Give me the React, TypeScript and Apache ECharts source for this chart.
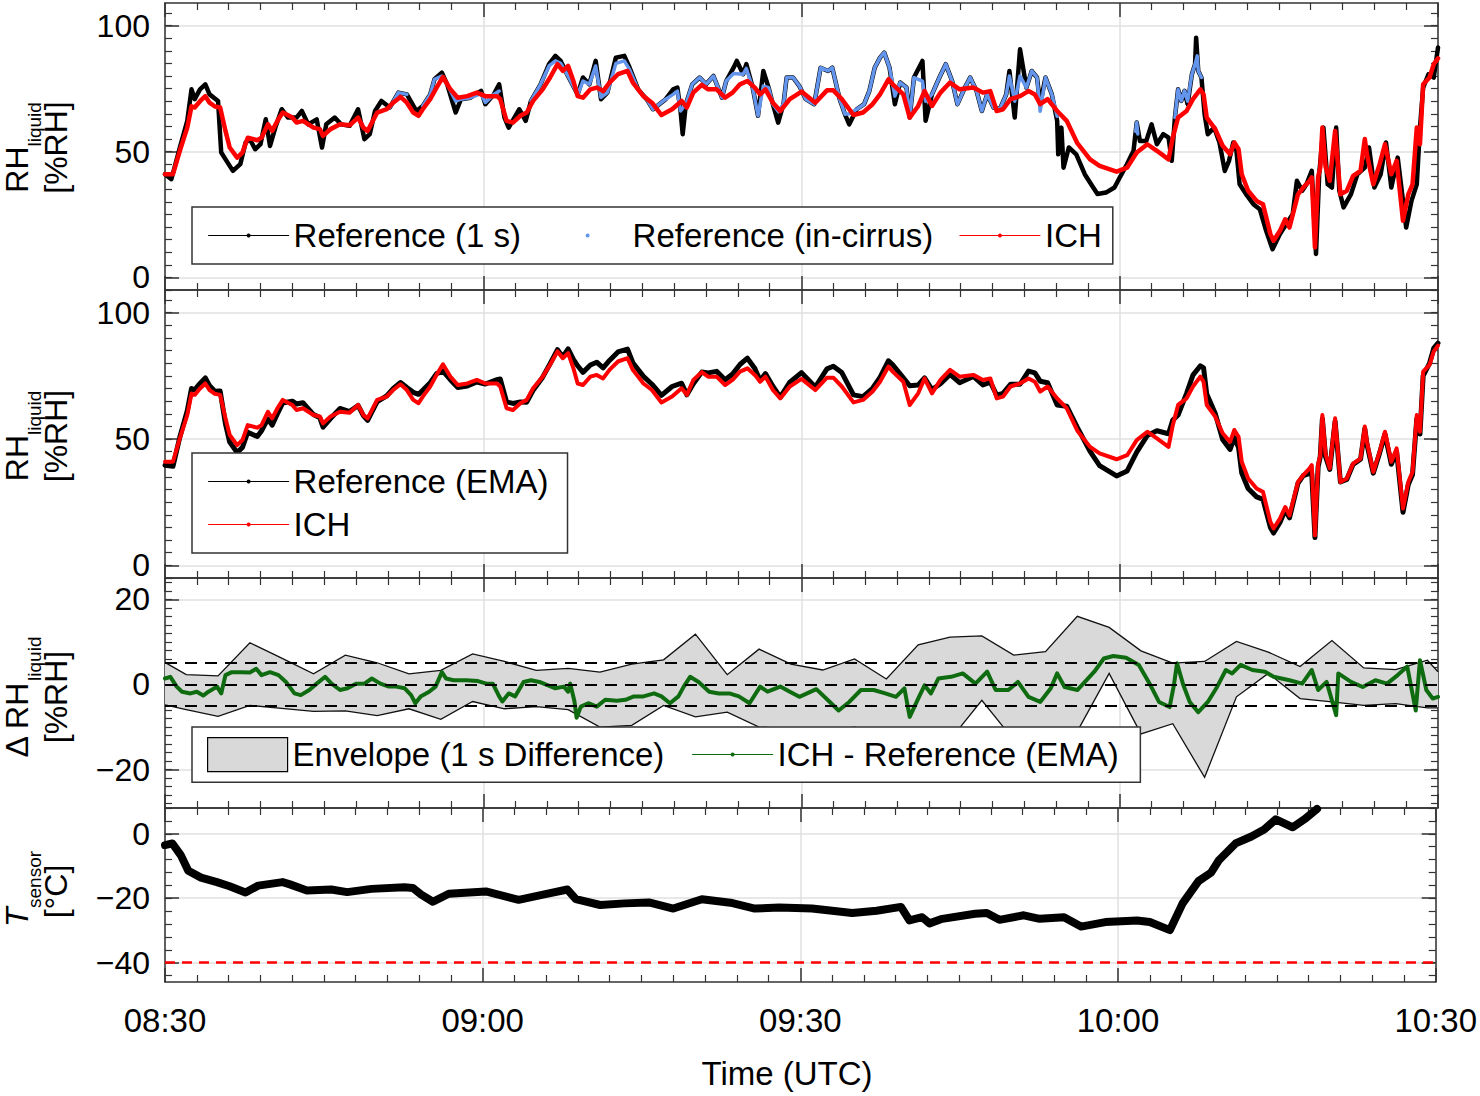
import React, { useEffect, useRef } from 'react';
import * as echarts from 'echarts';

// time is given in minutes after 08:30 UTC
const ref1s: [number, number][] = [
  [0, 41], [0.6, 39], [1.4, 51.6], [2.1, 62.2], [2.5, 74.7], [2.8, 70.8], [3.3, 74.7], [3.8, 76.7], [4.2, 72.7], [5.0, 70.1],
  [5.3, 49.6], [5.8, 46.3], [6.4, 42.3], [7.1, 45], [7.6, 53.6], [8.0, 54.9], [8.5, 50.9], [9.0, 52.9], [9.5, 62.8], [9.9, 52.2],
  [10.4, 59.5], [11.0, 66.8], [11.6, 63.5], [12.4, 63.5], [12.9, 66.1], [13.5, 60.8], [14.3, 62.8], [14.8, 51.6], [15.2, 60.8], [16.0, 63.5],
  [16.6, 60.8], [17.4, 60.2], [18.2, 66.8], [18.8, 54.9], [19.3, 56.9], [19.8, 66.1], [20.4, 70.1], [21.2, 67.5], [22.0, 73.4], [22.8, 72.7],
  [23.7, 66.1], [24.3, 68.1], [25.0, 72.7], [25.4, 78.7], [26.1, 81.3], [26.6, 76.7], [27.4, 65.5], [27.9, 70.8], [28.8, 71.4], [29.8, 74.1],
  [30.2, 68.8], [31.0, 72.7], [31.5, 76.7], [32.0, 63.5], [32.4, 59.5], [33.4, 66.8], [34.0, 62.2], [34.5, 70.1], [35.4, 76.7], [36.2, 84.7],
  [36.8, 88], [37.3, 86], [37.9, 80.7], [38.9, 72.7], [39.4, 79.4], [40.0, 76.7], [40.6, 86], [41.1, 70.8], [41.7, 73.4], [42.5, 87.3],
  [43.3, 88], [43.8, 83.3], [44.6, 74.7], [45.4, 70.8], [46.0, 66.8], [46.6, 68.8], [47.2, 70.8], [47.9, 74.7], [48.3, 75.4], [48.6, 66.1],
  [48.8, 56.9], [49.1, 68.8], [49.7, 76.7], [50.4, 79.4], [51.0, 76.7], [51.7, 80], [52.5, 71.4], [52.9, 78], [53.6, 83.3], [53.9, 86],
  [54.5, 80.7], [54.8, 84.7], [55.4, 75.4], [55.9, 64.2], [56.4, 82], [56.9, 75.4], [57.3, 68.8], [57.8, 61.5], [58.3, 68.8], [58.6, 79.4],
  [59.2, 79.4], [59.8, 76], [60.4, 70.8], [61.2, 68.8], [61.8, 83.3], [62.5, 82], [62.9, 83.3], [63.6, 70.8], [64.1, 64.8], [64.5, 60.8],
  [65.2, 66.8], [65.9, 68.8], [66.4, 74.1], [66.9, 83.3], [67.4, 87.3], [67.8, 89.3], [68.3, 83.3], [68.8, 68.8], [69.3, 77.4], [69.9, 75.4],
  [70.2, 63.5], [70.6, 79.4], [71.4, 86], [71.7, 62.2], [72.3, 72.7], [73.0, 79.4], [73.6, 84.7], [74.2, 78], [74.7, 68.8], [75.4, 75.4],
  [75.9, 79.4], [76.5, 74.1], [77.0, 66.1], [77.5, 72.7], [78.1, 67.5], [78.7, 66.8], [79.3, 72.7], [79.6, 82], [80.1, 63.5], [80.6, 90.6],
  [81.2, 75.4], [81.7, 82], [82.2, 79.4], [82.5, 68.8], [83.0, 79.4], [83.6, 72.7], [84.1, 62.2], [84.2, 48.9], [84.5, 59.5], [84.7, 43.6],
  [85.2, 51.6], [85.9, 48.9], [86.7, 41], [87.3, 37], [87.9, 33.1], [88.7, 33.7], [89.5, 35.7], [90.0, 39.7], [90.6, 44.3], [91.3, 50.3],
  [91.6, 61.5], [91.9, 54.2], [92.5, 54.2], [93.0, 60.8], [93.5, 52.9], [94.1, 56.9], [94.6, 55.5], [94.9, 46.3], [95.2, 63.5], [95.5, 74.7],
  [95.8, 70.1], [96.1, 74.1], [96.4, 68.8], [96.8, 80.7], [97.1, 84.7], [97.2, 95.2], [97.4, 82], [97.7, 79.4], [98.0, 64.8], [98.3, 56.9],
  [98.9, 59.5], [99.4, 53.6], [99.9, 42.3], [100.3, 46.3], [100.7, 53.6], [101.0, 50.3], [101.3, 37], [101.9, 33.1], [102.6, 29.1], [103.2, 27.1],
  [103.8, 18.5], [104.4, 11.2], [105.1, 17.2], [105.7, 21.2], [106.3, 25.1], [106.7, 38.4], [107.2, 34.4], [107.6, 37], [108.1, 42.3], [108.5, 9.3],
  [108.8, 41], [109.2, 59.5], [109.6, 37], [110.0, 35.7], [110.4, 59.5], [110.7, 34.4], [111.1, 27.8], [111.8, 33.1], [112.4, 41], [113.1, 43.6],
  [113.5, 51.6], [114.0, 35.7], [114.6, 41], [115.1, 53.6], [115.6, 35.7], [116.2, 47.6], [116.7, 30.4], [117.0, 19.8], [117.5, 30.4], [118.0, 37],
  [118.3, 59.5], [118.6, 75.4], [119.1, 80.7], [119.6, 79.4], [120, 91.3],
];

// in-cirrus subset of the 1 s reference, null breaks the segments
const refCirrus: [number, number | null][] = [
  [21.2, 67.5], [22.0, 73.4], [22.8, 72.7], [23.2, null],
  [24.3, 68.1], [25.0, 72.7], [25.4, 78.7], [26.1, 80], [26.6, 76.7], [27.4, 70], [27.9, 70.8], [28.8, 71.4], [29.8, 73], [30.2, 69.5],
  [31.0, 72.7], [31.5, 74], [33.0, null],
  [34.5, 70.1], [35.4, 76.7], [36.2, 84], [36.8, 86], [37.3, 85], [37.9, 80.7], [38.9, 72.7], [39.4, 78], [40.0, 76.7], [40.6, 84],
  [41.1, 71.5], [41.7, 73.4], [42.5, 85], [43.3, 86], [43.8, 82.5], [44.6, 74.7], [45.4, 70.8], [46.0, 66.8], [46.6, 68.8], [47.2, 70.8],
  [47.9, 72.7], [48.3, 74], [48.6, 66.1], [49.1, 68.8], [49.7, 76.7], [50.4, 79.4], [51.0, 76.7], [51.7, 80], [52.5, 71.4], [52.9, 78],
  [53.6, 81], [54.5, 80.7], [54.8, 83], [55.4, 75.4], [55.9, 64.2], [56.4, 76], [56.9, 75.4], [57.3, 68.8], [57.8, 66], [58.3, 68.8],
  [58.6, 79.4], [59.2, 79.4], [59.8, 76], [60.4, 70.8], [61.2, 68.8], [61.8, 83.3], [62.5, 82], [62.9, 83.3], [63.6, 70.8], [64.1, 64.8],
  [64.5, 65], [65.2, 66.8], [65.9, 68.8], [66.4, 74.1], [66.9, 83.3], [67.4, 87.3], [67.8, 89.3], [68.3, 83.3], [68.8, 72], [69.3, 77.4],
  [69.9, 75.4], [70.2, 63.5], [70.6, 79.4], [71.4, 78], [71.7, 70], [72.3, 72.7], [73.0, 79.4], [73.6, 84.7], [74.2, 78], [74.7, 68.8],
  [75.4, 75.4], [75.9, 79.4], [76.5, 74.1], [77.0, 66.1], [77.5, 72.7], [78.1, 67.5], [78.7, 66.8], [79.3, 72.7], [79.6, 80], [80.1, 70],
  [80.6, 80], [81.2, 75.4], [81.7, 82], [82.2, 79.4], [82.5, 66], [83.0, 79.4], [83.6, 72.7], [84.1, 64], [85.0, null],
  [91.5, 58], [91.6, 61.5], [91.7, 57], [92.0, null],
  [95.2, 63.5], [95.5, 74.7], [95.8, 70.1], [96.1, 74.1], [96.4, 70], [96.8, 80.7], [97.1, 84.7], [97.3, 88], [97.4, 82], [97.7, 79.4],
];

const ich: [number, number][] = [
  [0, 41], [0.75, 41], [1.4, 50.3], [2.1, 59.5], [2.5, 68], [2.8, 67.5], [3.3, 70], [3.8, 72], [4.2, 69.4], [4.7, 67.9],
  [5.2, 67.5], [5.7, 58.2], [6.1, 51.6], [6.8, 47.6], [7.3, 49.6], [7.8, 55.5], [8.7, 54.5], [9.1, 55.5], [9.7, 60.8], [10.1, 58.2],
  [10.6, 62.2], [11.1, 65.5], [12.0, 63.5], [12.4, 61.5], [13.0, 62.2], [14.0, 59.5], [14.6, 58.9], [14.9, 56.2], [15.6, 58.9], [16.5, 60.8],
  [17.4, 60.4], [18.2, 63.5], [18.7, 59.5], [19.1, 58.2], [20.0, 65.5], [20.9, 66.8], [21.5, 69.4], [22.2, 71.7], [22.8, 69.4], [23.4, 65.5],
  [23.9, 64.2], [24.3, 66.8], [25.0, 70.8], [25.6, 75.4], [26.2, 79.6], [26.9, 74.7], [27.6, 71.4], [28.5, 72], [29.4, 73.4], [30.2, 72],
  [31.3, 72], [31.6, 70.8], [32.2, 62.2], [32.8, 61.5], [33.5, 64.2], [34.1, 65.5], [34.7, 70.1], [35.6, 74.7], [36.3, 79.4], [37.0, 84.7],
  [37.5, 82], [38.0, 84], [38.5, 78], [38.9, 72], [39.4, 71.4], [40.1, 74.7], [40.7, 75.4], [41.3, 74], [41.9, 77.4], [42.7, 80.7],
  [43.6, 82], [44.1, 77.4], [45.1, 72], [45.9, 69.4], [46.8, 64.5], [47.8, 66.8], [48.7, 70.1], [49.2, 67.5], [49.8, 73.4], [50.6, 76.5],
  [51.2, 74.7], [52.0, 74.7], [52.8, 71.4], [53.5, 73.4], [54.2, 76.7], [54.9, 78], [55.6, 75.4], [56.1, 72.7], [56.6, 74.7], [57.3, 69.4],
  [58.0, 66.1], [58.9, 70.8], [60.0, 73.8], [61.3, 69.4], [62.4, 74.3], [63.0, 74.3], [63.8, 70.8], [64.9, 64.5], [65.8, 65.5], [66.7, 68.8],
  [67.4, 72.7], [68.2, 78.7], [68.6, 76.7], [69.6, 72.7], [70.2, 63.5], [71.0, 68.1], [71.6, 74], [72.3, 68.1], [73.1, 73.4], [74.0, 77.4],
  [74.9, 74.7], [76.2, 75.4], [77.1, 73.4], [77.8, 74], [78.4, 66.1], [79.0, 66.8], [79.7, 70.8], [80.6, 72], [81.4, 74], [82.0, 72.7],
  [82.5, 68.8], [83.2, 70.8], [84.1, 66.1], [85.0, 62.2], [86.0, 53.3], [87.2, 46.9], [88.1, 44.3], [89.7, 42], [90.7, 43.6], [91.6, 49.6],
  [92.6, 52.9], [93.5, 50.3], [94.6, 46.9], [95.0, 55.5], [95.5, 63.5], [96.3, 66.1], [96.9, 70.8], [97.6, 74.7], [97.9, 72.7], [98.2, 63.5],
  [99.0, 58.9], [99.7, 52.3], [100.4, 48.9], [100.8, 53.6], [101.2, 50.9], [101.5, 41], [102.1, 34.4], [102.9, 30.4], [103.5, 29.1], [104.2, 17.2],
  [104.5, 14.6], [105.1, 18.5], [105.6, 23.1], [106.0, 19.8], [106.8, 33], [107.3, 35.7], [107.9, 38.4], [108.1, 39.7], [108.4, 11.9], [108.7, 40],
  [108.9, 43.6], [109.1, 59.5], [109.4, 44], [109.8, 38.4], [110.3, 58.2], [110.8, 33], [111.4, 34.4], [112.0, 40.3], [112.7, 42.3], [113.1, 55],
  [113.3, 48.9], [113.9, 37], [114.5, 45], [115.0, 52.9], [115.6, 41], [116.1, 46.3], [116.7, 22.5], [117.2, 33], [117.6, 37], [118.0, 59.5],
  [118.3, 52.9], [118.6, 76.7], [119.2, 79.4], [119.6, 84.7], [120, 87],
];

const refEma: [number, number][] = [
  [0, 39.6], [0.75, 39.2], [1.4, 50.8], [2.1, 61.2], [2.5, 70], [2.8, 69.5], [3.3, 72], [3.8, 74.2], [4.2, 71.1], [4.7, 68.9],
  [5.2, 69], [5.7, 56], [6.1, 48.8], [6.8, 44.7], [7.3, 46.7], [7.8, 52.7], [8.7, 51], [9.1, 53.3], [9.7, 58], [10.1, 55.5],
  [10.6, 60], [11.1, 64.3], [12.0, 65], [12.4, 63.9], [13.0, 64.4], [14.0, 59.7], [14.6, 58.4], [14.9, 54.7], [15.6, 58.1], [16.5, 62.1],
  [17.4, 60.9], [18.2, 63.3], [18.7, 59.3], [19.1, 57.4], [20.0, 64.8], [20.9, 67.1], [21.5, 69.9], [22.2, 72.4], [22.8, 70.4], [23.4, 68.5],
  [23.9, 67.7], [24.3, 69.3], [25.0, 72.3], [25.6, 75.9], [26.2, 76.9], [26.9, 73.5], [27.6, 70.4], [28.5, 71], [29.4, 72.6], [30.2, 71.8],
  [31.3, 73.5], [31.6, 73.8], [32.2, 64.7], [32.8, 64.1], [33.5, 64.7], [34.1, 64.6], [34.7, 69.3], [35.6, 74.5], [36.3, 79.8], [37.0, 85.4],
  [37.5, 82.5], [38.0, 85.7], [38.5, 81.5], [38.9, 79], [39.4, 76.4], [40.1, 79.3], [40.7, 80.4], [41.3, 78.2], [41.9, 81.1], [42.7, 84.5],
  [43.6, 85.6], [44.1, 80.2], [45.1, 74.8], [45.9, 71.7], [46.8, 67.3], [47.8, 70.8], [48.7, 72.1], [49.2, 67.5], [49.8, 71.9], [50.6, 76.5],
  [51.2, 76.2], [52.0, 76.8], [52.8, 73.5], [53.5, 75.7], [54.2, 79.5], [54.9, 82], [55.6, 77.9], [56.1, 73.2], [56.6, 75.9], [57.3, 70.9],
  [58.0, 66.6], [58.9, 72.5], [60.0, 76.3], [61.3, 70.6], [62.4, 77.8], [63.0, 78.8], [63.8, 76.3], [64.9, 67.5], [65.8, 66.8], [66.7, 70.1],
  [67.4, 74.4], [68.2, 81], [68.6, 79.4], [69.6, 74.2], [70.2, 71.1], [71.0, 71.4], [71.6, 74.2], [72.3, 69.6], [73.1, 71.9], [74.0, 75.6],
  [74.9, 72.3], [76.2, 74.8], [77.1, 71.4], [77.8, 72.5], [78.4, 67.4], [79.0, 68.1], [79.7, 71.7], [80.6, 71.7], [81.4, 76.9], [82.0, 76.2],
  [82.5, 72.9], [83.2, 72.3], [84.1, 63.5], [85.0, 63], [86.0, 54.6], [87.2, 45.1], [88.1, 39.5], [89.7, 35.4], [90.7, 37.4], [91.6, 44.8],
  [92.6, 51.4], [93.5, 53.3], [94.6, 52.1], [95.0, 57.5], [95.5, 59.5], [96.3, 68.1], [96.9, 75.3], [97.6, 79], [97.9, 78.2], [98.2, 67.8],
  [99.0, 60.1], [99.7, 49.8], [100.4, 45.9], [100.8, 50.6], [101.2, 46.6], [101.5, 36.5], [102.1, 30.4], [102.9, 27.1], [103.5, 26.1], [104.2, 15],
  [104.5, 12.8], [105.1, 17], [105.6, 21.9], [106.0, 18.8], [106.8, 32.5], [107.3, 35.5], [107.9, 36.4], [108.1, 36.3], [108.4, 11], [108.7, 39],
  [108.9, 43], [109.1, 58], [109.4, 43], [109.8, 38], [110.3, 57], [110.8, 33], [111.4, 34], [112.0, 40], [112.7, 42], [113.1, 54],
  [113.3, 48], [113.9, 36.5], [114.5, 44.5], [115.0, 52], [115.6, 40], [116.1, 45], [116.7, 21], [117.2, 32], [117.6, 36], [118.0, 58],
  [118.3, 52], [118.6, 75], [119.2, 80], [119.6, 86], [120, 88],
];

const diffEma: [number, number][] = [
  [0, 1.4], [0.5, 1.8], [1.1, -0.5], [1.6, -1.7], [2.4, -2.1], [3.0, -1.7], [3.6, -2.6], [4.1, -1.7], [4.9, -0.5], [5.3, -2.1],
  [5.7, 2.2], [6.3, 2.9], [7.2, 2.9], [8.0, 2.8], [8.6, 3.7], [9.1, 2.2], [9.9, 2.9], [10.7, 2.2], [11.4, 0.6], [12.2, -2.1],
  [12.8, -2.5], [13.6, -1.3], [14.3, 0.2], [15.1, 1.8], [15.7, 0.2], [16.5, -1.3], [17.2, -0.9], [18.0, 0.2], [18.8, 0.2], [19.5, 1.4],
  [20.3, 0.2], [21.1, -0.5], [21.8, -0.5], [22.6, -0.9], [23.2, -2.5], [23.6, -4.4], [24.1, -2.8], [24.9, -1.7], [25.5, -0.5], [26.1, 2.9],
  [26.5, 1.4], [27.2, 1.0], [28.4, 1.0], [29.5, 0.8], [30.3, 0.2], [30.9, 0.2], [31.5, -2.8], [31.8, -4.0], [32.4, -2.1], [33.0, -2.8],
  [33.8, 0.6], [34.5, 1.0], [35.3, 0.6], [36.1, -0.2], [36.8, -0.9], [37.6, -0.5], [38.0, -1.7], [38.2, 0.2], [38.6, -4.0], [38.8, -7.8],
  [39.2, -5.2], [39.9, -4.4], [40.7, -5.2], [41.5, -3.6], [42.6, -3.8], [43.4, -3.6], [44.2, -2.8], [45.1, -2.8], [46.1, -2.1], [46.8, -2.8],
  [47.6, -4.4], [48.4, -2.8], [48.9, -0.5], [49.5, 1.8], [50.3, 0.6], [51.3, -1.7], [52.2, -2.1], [53.2, -2.1], [54.1, -2.8], [55.1, -4.4],
  [56.1, -0.5], [56.8, -1.7], [58.0, -0.5], [58.9, -1.7], [59.8, -2.9], [61.4, -1.1], [62.5, -3.7], [63.5, -6.1], [64.5, -4.1], [65.6, -1.3],
  [66.8, -1.3], [67.9, -2.1], [68.9, -2.9], [69.7, -0.9], [70.2, -7.6], [71.0, -3.3], [71.6, -0.2], [72.2, -2.1], [72.9, 1.4], [74.1, 1.8],
  [75.2, 2.6], [76.4, 0.2], [77.5, 3.0], [78.3, -1.3], [79.5, -1.3], [80.4, 0.6], [81.4, -2.9], [82.5, -4.1], [83.5, -0.9], [84.1, 2.6],
  [84.8, -0.6], [86.0, -1.3], [87.6, 3.0], [88.5, 6.1], [89.4, 6.7], [90.6, 6.3], [91.8, 4.6], [92.9, -0.2], [93.7, -4.1], [94.7, -5.3],
  [95.1, -0.2], [95.4, 5.0], [96.0, -0.2], [96.6, -4.1], [97.4, -6.5], [98.3, -4.1], [99.1, -0.9], [100.0, 3.4], [100.6, 2.6], [101.4, 4.6],
  [102.5, 3.4], [103.7, 3.0], [104.5, 1.8], [106.0, 1.0], [107.2, 0.2], [108.1, 3.4], [108.7, -1.3], [109.5, 0.6], [110.4, -7.2], [110.6, 2.6],
  [111.8, 0.6], [112.9, -0.6], [114.1, 1.0], [115.2, 0.2], [116.2, 2.2], [117.1, 4.2], [117.9, -6.1], [118.3, 5.7], [118.9, -1.3], [119.5, -3.3],
  [120, -2.9],
];

const envTimes = [0, 2, 5, 8, 11, 14, 17, 20, 23, 26, 29, 32, 35, 38, 41, 44, 47, 50, 53, 56, 59, 62, 65, 68, 71, 74, 77, 80, 83, 86, 89, 92, 95, 98, 101, 104, 107, 110, 113, 116, 119, 120];
const envUpper = [5.2, 2.3, 2.0, 9.8, 6.2, 2.5, 6.9, 5.1, 2.5, 3.3, 7.2, 5.4, 3.3, 3.8, 2.9, 4.8, 5.8, 11.8, 2.3, 8.3, 4.8, 3.4, 6.0, 1.3, 9.3, 11.1, 11.4, 6.9, 7.7, 16.0, 13.4, 7.9, 5.0, 5.4, 10.1, 7.6, 4.2, 10.3, 3.9, 3.5, 5.7, 3.0];
const envLower = [-4.8, -5.9, -7.5, -4.9, -5.6, -6.3, -6.2, -7.3, -5.7, -8.2, -4.0, -5.7, -5.2, -5.9, -10, -9.6, -4.9, -7.6, -6.5, -10, -10.5, -11, -10, -12, -12, -13, -3.7, -13, -12, -11, 2.6, -11.6, -9.2, -21.8, -2.9, 2.6, -3.3, -4.1, -4.9, -4.5, -5.5, -5.5];
const diffLevels = [-5, 0, 5];

const tSensor: [number, number][] = [
  [0, -3.5], [0.7, -3.0], [1.5, -6.7], [2.2, -11.5], [3.4, -13.6], [4.9, -15], [6.1, -16.3], [7.6, -18.2], [8.8, -16.1], [11.1, -15],
  [11.8, -15.7], [13.4, -17.6], [15.7, -17.3], [17.2, -18.1], [19.5, -17.1], [22.6, -16.6], [23.4, -16.8], [24.2, -18.9], [25.3, -21.1], [26.8, -18.6],
  [30.3, -17.9], [33.4, -20.5], [35.7, -18.9], [38.0, -17.3], [38.8, -20.3], [41.1, -22.1], [43.4, -21.6], [45.7, -21.3], [48.0, -23.2], [50.7, -20.3],
  [53.4, -21.4], [55.7, -23.2], [58.0, -22.9], [61.1, -23.2], [64.9, -24.6], [67.2, -23.9], [69.5, -22.7], [70.3, -26.9], [71.5, -25.9], [72.2, -27.8],
  [73.4, -26.4], [76.5, -24.8], [77.6, -24.6], [78.8, -26.7], [81.1, -25.3], [82.6, -26.4], [84.9, -25.9], [86.5, -28.8], [88.8, -27.4], [91.8, -26.9],
  [93.0, -27.4], [94.9, -29.9], [96.1, -21.6], [97.6, -14.7], [98.8, -12], [99.5, -8.3], [101.1, -3], [102.6, -0.85], [103.8, 1.3], [104.9, 4.5],
  [106.5, 2], [107.6, 4.5], [108.8, 7.7],
];
const tThreshold = -40;

const rhMajor = [0, 50, 100];
const rhMinor = [-5, 0, 5, 10, 15, 20, 25, 30, 35, 40, 45, 50, 55, 60, 65, 70, 75, 80, 85, 90, 95, 100, 105];
const dMajor = [-20, 0, 20];
const dMinor = [-28, -26, -24, -22, -20, -18, -16, -14, -12, -10, -8, -6, -4, -2, 0, 2, 4, 6, 8, 10, 12, 14, 16, 18, 20, 22, 24];
const tMajor = [-40, -20, 0];
const tMinor = [-44, -40, -36, -32, -28, -24, -20, -16, -12, -8, -4, 0, 4, 8];

const FONT = '"Liberation Sans", Arial, Helvetica, sans-serif';
const AXIS = '#333';
const GRID = '#e0e0e0';

const panels = [
  { top: 3, height: 287, min: -5, max: 109, major: rhMajor, minor: rhMinor },
  { top: 290, height: 288, min: -5, max: 109, major: rhMajor, minor: rhMinor },
  { top: 578, height: 230, min: -29, max: 25, major: dMajor, minor: dMinor },
  { top: 808, height: 174, min: -46, max: 8, major: tMajor, minor: tMinor },
];

const fmtTime = (v: number) => {
  const t = 510 + v;
  const h = Math.floor(t / 60);
  const m = t % 60;
  return String(h).padStart(2, '0') + ':' + String(m).padStart(2, '0');
};

const lineSeries = (name: string, data: any[], color: string, width: number, grid: number, z = 2) => ({
  type: 'line',
  name,
  data,
  xAxisIndex: grid * 2,
  yAxisIndex: grid * 4,
  showSymbol: false,
  symbol: 'circle',
  symbolSize: 4,
  connectNulls: false,
  lineStyle: { color, width, join: 'round', cap: 'round' },
  itemStyle: { color },
  emphasis: { disabled: true },
  z,
});

const axisTitle = (text: string, x: number, y: number, size: number, align: string, italic = false) => ({
  type: 'text',
  x,
  y,
  rotation: Math.PI / 2,
  silent: true,
  style: {
    text,
    font: (italic ? 'italic ' : '') + size + 'px ' + FONT,
    fill: '#000',
    align,
    verticalAlign: 'middle',
    textAlign: align,
    textVerticalAlign: 'middle',
  },
});

const App: React.FC = () => {
  const chartRef = useRef<HTMLDivElement>(null);

  useEffect(() => {
    if (!chartRef.current) return;
    const chart = echarts.init(chartRef.current, undefined, { renderer: 'svg' });

    const lineStyle = { color: AXIS, width: 1.5 };

    const xAxes = panels.flatMap((p, i) =>
      ['bottom', 'top'].map((pos) => ({
        type: 'value',
        gridIndex: i,
        position: pos,
        min: 0,
        max: 120,
        interval: 30,
        axisLine: { show: true, onZero: false, lineStyle },
        axisTick: { show: true, inside: true, length: 14, lineStyle },
        minorTick: { show: true, splitNumber: 10, length: 7, lineStyle: { color: AXIS, width: 1.2 } },
        axisLabel: {
          show: pos === 'bottom' && i === 3,
          formatter: fmtTime,
          margin: 22,
          fontSize: 33,
          fontFamily: FONT,
          color: '#000',
          showMinLabel: true,
          showMaxLabel: true,
        },
        splitLine: { show: pos === 'bottom', lineStyle: { color: GRID, width: 1.5 } },
        minorSplitLine: { show: false },
      }))
    );

    const yAxes = panels.flatMap((p, i) =>
      ['left', 'right'].flatMap((pos) => [
        {
          type: 'value',
          gridIndex: i,
          position: pos,
          min: p.min,
          max: p.max,
          axisLine: { show: true, onZero: false, lineStyle },
          axisTick: { show: true, inside: true, length: 14, customValues: p.major, lineStyle },
          axisLabel: {
            show: pos === 'left',
            customValues: p.major,
            formatter: (v: number) => String(v).replace('-', '\u2212'),
            margin: 15,
            fontSize: 32,
            fontFamily: FONT,
            color: '#000',
          },
          splitLine: { show: pos === 'left', lineStyle: { color: GRID, width: 1.5 } },
        },
        {
          type: 'value',
          gridIndex: i,
          position: pos,
          min: p.min,
          max: p.max,
          axisLine: { show: false, onZero: false },
          axisTick: { show: true, inside: true, length: 7, customValues: p.minor, lineStyle: { color: AXIS, width: 1.2 } },
          axisLabel: { show: false },
          splitLine: { show: false },
        },
      ])
    );

    const legendText = { fontSize: 33, fontFamily: FONT, color: '#000' };
    const legendBox = { backgroundColor: '#fff', borderColor: AXIS, borderWidth: 1.5, borderRadius: 0 };

    const option: any = {
      animation: false,
      grid: panels.map((p) => ({ left: 165, right: 42, top: p.top, height: p.height, containLabel: false })),
      xAxis: xAxes,
      yAxis: yAxes,
      legend: [
        {
          ...legendBox,
          left: 192,
          top: 207,
          orient: 'horizontal',
          itemWidth: 80,
          itemHeight: 5,
          itemGap: 26,
          padding: [12, 11, 12, 16],
          textStyle: legendText,
          lineStyle: { width: 1.2 },
          selectedMode: false,
          z: 6,
          data: [
            { name: 'Reference (1 s)' },
            { name: 'Reference (in-cirrus)', lineStyle: { opacity: 0 } },
            { name: 'ICH' },
          ],
        },
        {
          ...legendBox,
          left: 192,
          top: 453,
          orient: 'vertical',
          itemWidth: 80,
          itemHeight: 5,
          itemGap: 10,
          padding: [12, 19, 12, 16],
          textStyle: legendText,
          lineStyle: { width: 1.2 },
          selectedMode: false,
          z: 6,
          data: ['Reference (EMA)', 'ICH'],
        },
        {
          ...legendBox,
          left: 192,
          top: 727,
          itemWidth: 80,
          itemHeight: 34,
          padding: [10, 476, 10, 15],
          textStyle: legendText,
          selectedMode: false,
          z: 6,
          data: [
            {
              name: 'Envelope (1 s Difference)',
              icon: 'rect',
              itemStyle: { color: '#d9d9d9', borderColor: '#000', borderWidth: 1.2 },
            },
          ],
        },
        {
          left: 692,
          top: 738,
          itemWidth: 80,
          itemHeight: 5,
          padding: 0,
          textStyle: legendText,
          lineStyle: { width: 1.2 },
          selectedMode: false,
          z: 7,
          data: ['ICH - Reference (EMA)'],
        },
      ],
      graphic: [
        axisTitle('RH', 17, 192.7, 32, 'left'),
        axisTitle('liquid', 34, 146.5, 19, 'left'),
        axisTitle('[%RH]', 56, 147.5, 32, 'center'),
        axisTitle('RH', 17, 481.2, 32, 'left'),
        axisTitle('liquid', 34, 435, 19, 'left'),
        axisTitle('[%RH]', 56, 436, 32, 'center'),
        axisTitle('\u0394 RH', 17, 757.4, 32, 'left'),
        axisTitle('liquid', 34, 680.9, 19, 'left'),
        axisTitle('[%RH]', 56, 697, 32, 'center'),
        axisTitle('T', 17, 927, 32, 'left', true),
        axisTitle('sensor', 34, 908, 19, 'left'),
        axisTitle('[\u00B0C]', 56, 891.5, 32, 'center'),
        {
          type: 'text',
          x: 787,
          y: 1073,
          silent: true,
          style: {
            text: 'Time (UTC)',
            font: '33px ' + FONT,
            fill: '#000',
            align: 'center',
            verticalAlign: 'middle',
            textAlign: 'center',
            textVerticalAlign: 'middle',
          },
        },
      ],
      series: [
        lineSeries('Reference (1 s)', ref1s, '#000000', 4.5, 0),
        lineSeries('Reference (in-cirrus)', refCirrus, '#6495ed', 3.5, 0),
        lineSeries('ICH', ich, '#ff0000', 4.5, 0, 3),
        lineSeries('Reference (EMA)', refEma, '#000000', 5, 1),
        lineSeries('ICH', ich, '#ff0000', 4, 1, 3),
        {
          type: 'custom',
          name: 'Envelope (1 s Difference)',
          xAxisIndex: 4,
          yAxisIndex: 8,
          data: [[0, 0]],
          itemStyle: { color: '#d9d9d9' },
          z: 1,
          renderItem: (params: any, api: any) => {
            const up = envTimes.map((t, k) => api.coord([t, envUpper[k]]));
            const lo = envTimes.map((t, k) => api.coord([t, envLower[k]]));
            return {
              type: 'group',
              children: [
                { type: 'polygon', shape: { points: up.concat(lo.slice().reverse()) }, style: { fill: '#d9d9d9', stroke: null } },
                { type: 'polyline', shape: { points: up }, style: { stroke: '#111', lineWidth: 1.3, fill: null } },
                { type: 'polyline', shape: { points: lo }, style: { stroke: '#111', lineWidth: 1.3, fill: null } },
              ],
            };
          },
          markLine: {
            silent: true,
            symbol: ['none', 'none'],
            label: { show: false },
            lineStyle: { color: '#000', width: 2.2, type: [12, 8] },
            data: diffLevels.map((v) => ({ yAxis: v })),
          },
        },
        lineSeries('ICH - Reference (EMA)', diffEma, '#0f6b0f', 4, 2, 3),
        {
          ...lineSeries('T sensor', tSensor, '#000000', 8, 3),
          markLine: {
            silent: true,
            symbol: ['none', 'none'],
            label: { show: false },
            lineStyle: { color: '#ff0000', width: 2.5, type: [10, 7] },
            data: [{ yAxis: tThreshold }],
          },
        },
      ],
    };

    chart.setOption(option);

    return () => {
      chart.dispose();
    };
  }, []);

  return (
    <div
      ref={chartRef}
      style={{ position: 'absolute', left: 0, top: 0, width: 1480, height: 1096, background: '#fff' }}
    />
  );
};

export default App;
